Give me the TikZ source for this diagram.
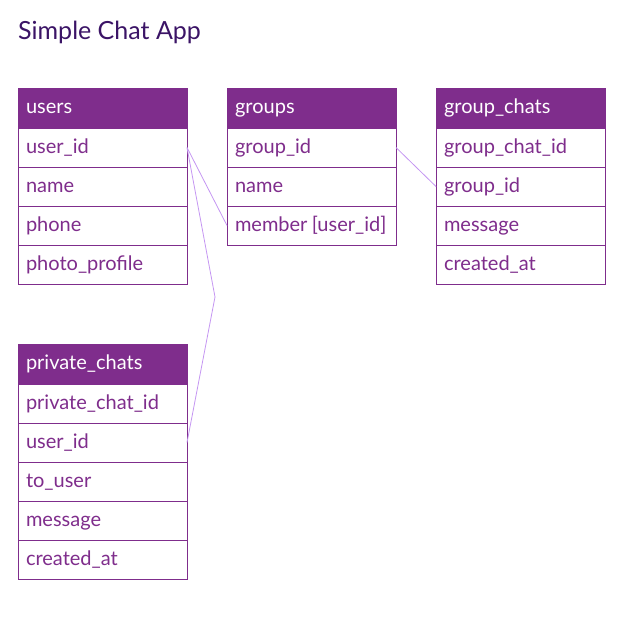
\documentclass[tikz,border=0pt]{standalone}
\usepackage{fontspec}
\setmainfont{Lato}
\usepackage{xcolor}
\usetikzlibrary{positioning}
\definecolor{plum}{HTML}{7F2D8C}
\definecolor{ink}{HTML}{3B1466}
\definecolor{lilac}{HTML}{C596F2}

\begin{document}
\begin{tikzpicture}[
  x=1pt,y=-1pt,
  node distance=0pt,
  tablecell/.style={draw=plum,line width=0.8pt,outer sep=0pt,inner xsep=8pt,
               text width=153pt,minimum height=39pt,align=left,
               text height=15pt,text depth=4pt,font=\fontsize{20}{22}\selectfont},
  tablehead/.style={tablecell,fill=plum,text=white,minimum height=40pt,anchor=north west},
  tablerow/.style={tablecell,fill=white,text=plum},
  link/.style={draw=lilac,line width=0.8pt}
]
\useasboundingbox (0,0) rectangle (641,643);
\node[anchor=west,inner sep=0pt,text=ink,font=\fontsize{25}{28}\selectfont] (title) at (18,32) {Simple Chat App};
% users
\node[tablehead] (u0) at (18,88) {users};
\node[tablerow,below=of u0] (u1) {user\_id};
\node[tablerow,below=of u1] (u2) {name};
\node[tablerow,below=of u2] (u3) {phone};
\node[tablerow,below=of u3] (u4) {photo\_profile};
% groups
\node[tablehead] (g0) at (227,88) {groups};
\node[tablerow,below=of g0] (g1) {group\_id};
\node[tablerow,below=of g1] (g2) {name};
\node[tablerow,below=of g2] (g3) {\mbox{member\hspace{0.22em}[user\_id]}};
% group_chats
\node[tablehead] (gc0) at (436,88) {group\_chats};
\node[tablerow,below=of gc0] (gc1) {group\_chat\_id};
\node[tablerow,below=of gc1] (gc2) {group\_id};
\node[tablerow,below=of gc2] (gc3) {message};
\node[tablerow,below=of gc3] (gc4) {created\_at};
% private_chats
\node[tablehead] (p0) at (18,344) {private\_chats};
\node[tablerow,below=of p0] (p1) {private\_chat\_id};
\node[tablerow,below=of p1] (p2) {user\_id};
\node[tablerow,below=of p2] (p3) {to\_user};
\node[tablerow,below=of p3] (p4) {message};
\node[tablerow,below=of p4] (p5) {created\_at};
% relations
\coordinate (bend) at (215,297);
\draw[link] (u1.east)--(g3.west);
\draw[link] (u1.east)--(bend)--(p2.east);
\draw[link] (g1.east)--(gc2.west);
\end{tikzpicture}
\end{document}
